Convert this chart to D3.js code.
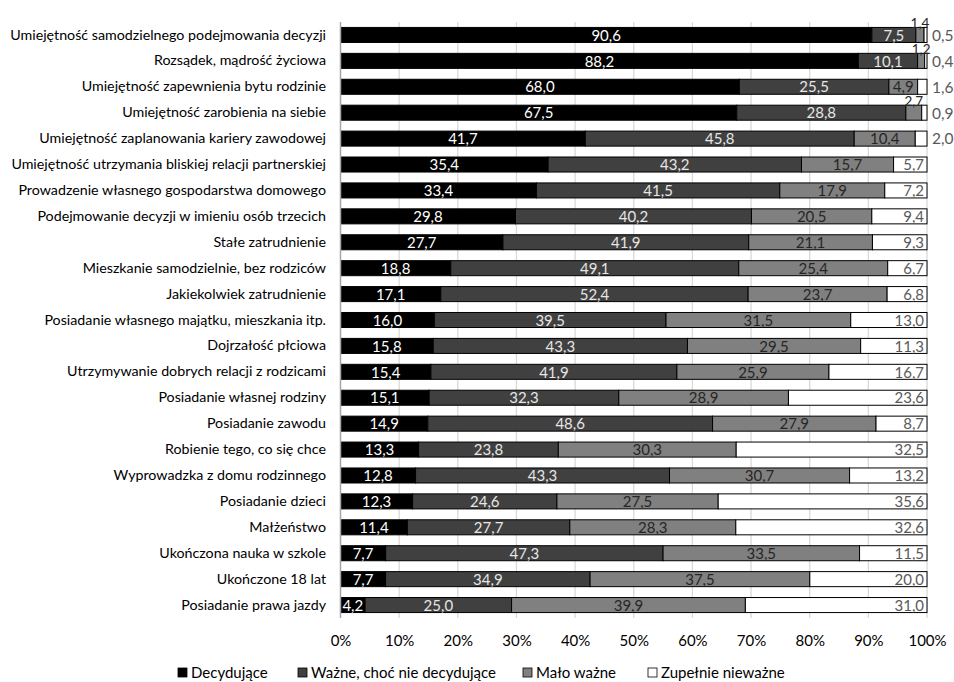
<!DOCTYPE html>
<html><head><meta charset="utf-8">
<script src="https://cdn.jsdelivr.net/npm/d3@7"></script>
<style>
body{margin:0;background:#fff;}
text{font-family:Lato,"Open Sans",sans-serif;}
</style></head>
<body><svg id="c" width="954" height="682"></svg>
<script>
const categories = [
"Umiejętność samodzielnego podejmowania decyzji",
"Rozsądek, mądrość życiowa",
"Umiejętność zapewnienia bytu rodzinie",
"Umiejętność zarobienia na siebie",
"Umiejętność zaplanowania kariery zawodowej",
"Umiejętność utrzymania bliskiej relacji partnerskiej",
"Prowadzenie własnego gospodarstwa domowego",
"Podejmowanie decyzji w imieniu osób trzecich",
"Stałe zatrudnienie",
"Mieszkanie samodzielnie, bez rodziców",
"Jakiekolwiek zatrudnienie",
"Posiadanie własnego majątku, mieszkania itp.",
"Dojrzałość płciowa",
"Utrzymywanie dobrych relacji z rodzicami",
"Posiadanie własnej rodziny",
"Posiadanie zawodu",
"Robienie tego, co się chce",
"Wyprowadzka z domu rodzinnego",
"Posiadanie dzieci",
"Małżeństwo",
"Ukończona nauka w szkole",
"Ukończone 18 lat",
"Posiadanie prawa jazdy"];
const seriesNames = ["Decydujące","Ważne, choć nie decydujące","Mało ważne","Zupełnie nieważne"];
const decydujace = [90.6,88.2,68.0,67.5,41.7,35.4,33.4,29.8,27.7,18.8,17.1,16.0,15.8,15.4,15.1,14.9,13.3,12.8,12.3,11.4,7.7,7.7,4.2];
const wazne      = [7.5,10.1,25.5,28.8,45.8,43.2,41.5,40.2,41.9,49.1,52.4,39.5,43.3,41.9,32.3,48.6,23.8,43.3,24.6,27.7,47.3,34.9,25.0];
const maloWazne  = [1.4,1.2,4.9,2.7,10.4,15.7,17.9,20.5,21.1,25.4,23.7,31.5,29.5,25.9,28.9,27.9,30.3,30.7,27.5,28.3,33.5,37.5,39.9];
const niewazne   = [0.5,0.4,1.6,0.9,2.0,5.7,7.2,9.4,9.3,6.7,6.8,13.0,11.3,16.7,23.6,8.7,32.5,13.2,35.6,32.6,11.5,20.0,31.0];
const tickValues = [0,0.1,0.2,0.3,0.4,0.5,0.6,0.7,0.8,0.9,1.0];

const fills = ["#000000","#404040","#808080","#ffffff"];
const labelColors = ["#ffffff","#e6e6e6","#262626","#595959"];
const seriesArrays = [decydujace,wazne,maloWazne,niewazne];

const rows = categories.map((c,i)=>{
  const o={cat:c};
  seriesNames.forEach((s,j)=>o[s]=seriesArrays[j][i]);
  return o;
});
const stacked = d3.stack().keys(seriesNames).offset(d3.stackOffsetExpand)(rows);

const svg = d3.select("#c");
const x = d3.scaleLinear().domain([0,1]).range([340.5,927]);
const y = d3.scaleBand().domain(categories).range([22,618]).paddingInner(0.42).paddingOuter(0.21);

// gridlines
svg.append("g").selectAll("line").data(tickValues.slice(1)).join("line")
  .attr("x1",d=>x(d)).attr("x2",d=>x(d)).attr("y1",22).attr("y2",618)
  .attr("stroke","#d9d9d9").attr("stroke-width",1.3);

// bars
const layer = svg.append("g").selectAll("g").data(stacked).join("g")
  .attr("fill",(d,i)=>fills[i]);
layer.selectAll("rect").data(d=>d).join("rect")
  .attr("x",d=>x(d[0])).attr("width",d=>x(d[1])-x(d[0]))
  .attr("y",d=>y(d.data.cat)).attr("height",y.bandwidth())
  .attr("stroke","#000").attr("stroke-width",1);

// axis line
svg.append("line").attr("x1",x(0)).attr("x2",x(0)).attr("y1",22).attr("y2",618)
  .attr("stroke","#a6a6a6").attr("stroke-width",1.5);

// labels
const fmt = v => v.toFixed(1).replace(".",",");
stacked.forEach((s,si)=>{
  s.forEach(d=>{
    const v = d.data[s.key];
    const yc = y(d.data.cat)+y.bandwidth()/2;
    let tx, ty, anchor="middle", col=labelColors[si], fs="15px";
    if (si===3) {
      if (v<3) { tx = x(1)+5; anchor="start"; col="#595959"; ty=yc; fs="15.5px"; }
      else { tx = x(1)-3; anchor="end"; ty=yc; }
    } else if (si===2 && v<3) {
      tx = (x(d[0])+x(d[1]))/2; ty = y(d.data.cat)-4.5; col="#262626"; fs="13.5px";
    } else {
      tx = (x(d[0])+x(d[1]))/2; ty=yc;
    }
    svg.append("text").attr("x",tx).attr("y",ty).attr("dy","0.38em")
      .attr("text-anchor",anchor).attr("fill",col)
      .style("font-size",fs).text(fmt(v));
  });
});

// category labels
const yAxis = d3.axisLeft(y).tickSize(0).tickPadding(14.5);
const ga = svg.append("g").attr("transform",`translate(${x(0)},0)`).call(yAxis);
ga.select(".domain").remove();
ga.selectAll("text").style("font-size","14.25px").attr("fill","#000").style("font-family","Lato,'Open Sans',sans-serif");

// x axis
const xAxis = d3.axisBottom(x).tickValues(tickValues).tickFormat(d3.format(".0%")).tickSize(0).tickPadding(10);
const gx = svg.append("g").attr("transform","translate(0,625)").call(xAxis);
gx.select(".domain").remove();
gx.selectAll("text").style("font-size","15px").attr("fill","#000").style("font-family","Lato,'Open Sans',sans-serif");

// legend
const legendX = [178, 298, 523, 648];
const lg = svg.append("g");
seriesNames.forEach((s,i)=>{
  lg.append("rect").attr("x",legendX[i]).attr("y",668).attr("width",9).attr("height",9)
    .attr("fill",fills[i]).attr("stroke","#000").attr("stroke-width",0.8);
  lg.append("text").attr("x",legendX[i]+13).attr("y",673).attr("dy","0.36em")
    .style("font-size","15px").attr("fill","#000").text(s);
});
</script></body></html>
